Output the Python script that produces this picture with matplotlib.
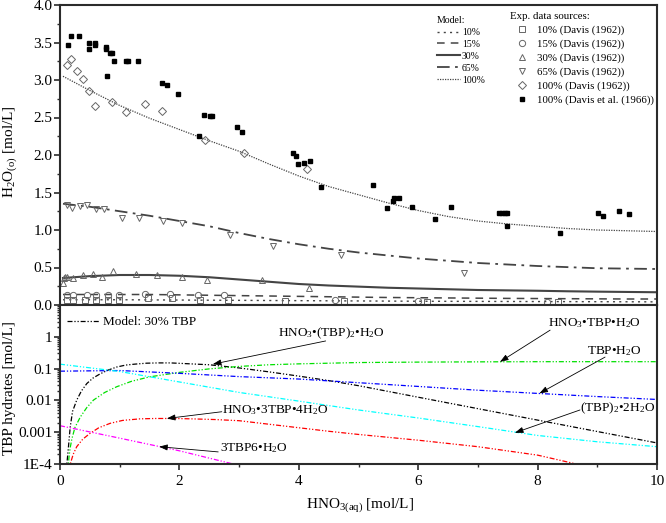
import matplotlib
matplotlib.use("Agg")
import matplotlib.pyplot as plt
from matplotlib.lines import Line2D
from matplotlib.ticker import MultipleLocator, FixedLocator, NullFormatter

plt.rcParams['font.family'] = ['Liberation Serif', 'DejaVu Serif']
plt.rcParams['mathtext.fontset'] = 'custom'
plt.rcParams['mathtext.rm'] = 'Liberation Serif'
plt.rcParams['mathtext.it'] = 'Liberation Serif:italic'

# ---------------- experimental data (top panel) ----------------
x_10 = [0.11, 0.22, 0.42, 0.60, 0.80, 0.98, 1.48, 1.87, 2.35, 2.82, 3.77, 4.75, 6.14, 8.35]
y_10 = [0.067, 0.067, 0.067, 0.067, 0.067, 0.07, 0.09, 0.09, 0.067, 0.067, 0.057, 0.053, 0.036, 0.036]

x_15 = [0.11, 0.22, 0.45, 0.61, 0.81, 0.98, 1.42, 1.84, 2.31, 2.75, 4.61, 6.00, 8.15]
y_15 = [0.13, 0.13, 0.13, 0.13, 0.14, 0.14, 0.15, 0.15, 0.14, 0.14, 0.07, 0.05, 0.035]

x_30 = [0.05, 0.07, 0.09, 0.11, 0.21, 0.39, 0.56, 0.71, 0.88, 1.27, 1.63, 2.05, 2.46, 3.38, 4.17]
y_30 = [0.29, 0.36, 0.38, 0.37, 0.36, 0.40, 0.41, 0.37, 0.45, 0.41, 0.40, 0.38, 0.34, 0.33, 0.23]

x_65 = [0.11, 0.20, 0.34, 0.46, 0.60, 0.73, 1.04, 1.33, 1.73, 2.04, 2.85, 3.57, 4.71, 6.76]
y_65 = [1.34, 1.30, 1.32, 1.34, 1.28, 1.28, 1.16, 1.16, 1.12, 1.09, 0.94, 0.79, 0.67, 0.43]

x_100 = [0.11, 0.18, 0.29, 0.39, 0.48, 0.59, 0.87, 1.10, 1.42, 1.71, 2.43, 3.09, 4.13]
y_100 = [3.20, 3.28, 3.12, 3.02, 2.86, 2.65, 2.71, 2.57, 2.68, 2.59, 2.20, 2.03, 1.81]

x_100b = [0.14, 0.18, 0.32, 0.49, 0.49, 0.59, 0.59, 0.77, 0.77, 0.84, 0.87, 0.90, 0.79,
          1.11, 1.14, 1.30, 1.71, 1.79, 1.97, 2.32, 2.42, 2.52, 2.55, 2.96, 3.05,
          3.91, 3.95, 3.99, 4.09, 4.18, 4.37, 5.25, 5.48, 5.57, 5.60, 5.68, 5.90,
          6.28, 6.55, 7.36, 7.40, 7.45, 7.49, 7.48, 8.38, 9.01, 9.10, 9.37, 9.53]
y_100b = [3.47, 3.59, 3.59, 3.50, 3.41, 3.49, 3.47, 3.44, 3.42, 3.36, 3.36, 3.25, 3.06,
          3.26, 3.26, 3.26, 2.96, 2.94, 2.82, 2.26, 2.54, 2.52, 2.52, 2.38, 2.31,
          2.03, 1.99, 1.88, 1.90, 1.92, 1.58, 1.60, 1.30, 1.39, 1.43, 1.43, 1.31,
          1.15, 1.31, 1.23, 1.23, 1.23, 1.23, 1.06, 0.96, 1.23, 1.19, 1.26, 1.22]

# ---------------- model curves (top panel) ----------------
x_model = [0.05, 0.5, 1.0, 1.5, 2.0, 2.5, 3.0, 3.5, 4.0, 4.5, 5.0, 5.5, 6.0, 6.5, 7.0,
           7.5, 8.0, 8.5, 9.0, 9.5, 10.0]
m_10 = [0.07, 0.07, 0.07, 0.068, 0.066, 0.064, 0.062, 0.060, 0.058, 0.056, 0.054,
        0.052, 0.050, 0.049, 0.048, 0.047, 0.046, 0.045, 0.044, 0.043, 0.042]
m_15 = [0.14, 0.14, 0.14, 0.14, 0.135, 0.13, 0.125, 0.12, 0.115, 0.11, 0.105, 0.10,
        0.097, 0.094, 0.091, 0.088, 0.086, 0.084, 0.082, 0.080, 0.080]
m_30 = [0.36, 0.385, 0.40, 0.40, 0.39, 0.37, 0.34, 0.31, 0.28, 0.26, 0.245, 0.23,
        0.22, 0.21, 0.20, 0.195, 0.19, 0.183, 0.178, 0.174, 0.17]
m_65 = [1.35, 1.31, 1.25, 1.19, 1.12, 1.05, 0.96, 0.88, 0.81, 0.75, 0.70, 0.66,
        0.62, 0.59, 0.56, 0.54, 0.52, 0.505, 0.49, 0.485, 0.48]
m_100 = [3.05, 2.86, 2.66, 2.49, 2.34, 2.19, 2.05, 1.88, 1.72, 1.58, 1.47, 1.36,
         1.26, 1.18, 1.12, 1.08, 1.05, 1.02, 1.00, 0.99, 0.98]

# ---------------- TBP hydrates (bottom panel) ----------------
x_h1 = [0.10, 0.12, 0.14, 0.17, 0.21, 0.28, 0.36, 0.45, 0.55, 0.67, 0.80, 0.95, 1.10,
        1.25, 1.45, 1.65, 1.85, 2.05, 2.5, 3.0, 3.5, 4.0, 4.5, 5.0, 6.0, 7.0, 8.0, 9.0, 10.0]
y_h1 = [5.0e-5, 1.26e-4, 3.2e-4, 1.4e-3, 4.5e-3, 0.0102, 0.020, 0.034, 0.050, 0.068,
        0.089, 0.112, 0.129, 0.138, 0.148, 0.151, 0.151, 0.145, 0.132, 0.105, 0.079,
        0.058, 0.042, 0.029, 0.0126, 0.0055, 0.0024, 0.00105, 0.00046]

x_h2 = [0.13, 0.15, 0.17, 0.20, 0.25, 0.34, 0.45, 0.56, 0.75, 0.95, 1.2, 1.5, 2.0, 2.5,
        3.0, 3.5, 4.0, 5.0, 6.0, 7.0, 8.0, 9.0, 10.0]
y_h2 = [5e-5, 1.6e-4, 3.2e-4, 6.3e-4, 1.4e-3, 3.0e-3, 6.0e-3, 0.0102, 0.0178, 0.0269,
        0.040, 0.055, 0.076, 0.098, 0.117, 0.132, 0.141, 0.155, 0.160, 0.163, 0.165,
        0.165, 0.165]

x_h3 = [0.0, 1.0, 2.0, 3.0, 4.0, 5.0, 6.0, 7.0, 8.0, 9.0, 10.0]
y_h3 = [0.083, 0.087, 0.071, 0.056, 0.047, 0.036, 0.0275, 0.0209, 0.0166, 0.0132, 0.0107]

x_h4 = [0.0, 1.0, 2.0, 3.0, 4.0, 5.0, 6.0, 7.0, 8.0, 9.0, 10.0]
y_h4 = [0.138, 0.081, 0.038, 0.0178, 0.0095, 0.0050, 0.0028, 0.0015, 0.00079, 0.0005, 0.00035]

x_h5 = [0.16, 0.18, 0.22, 0.28, 0.38, 0.5, 0.65, 0.84, 1.05, 1.34, 1.6, 1.9, 2.2, 2.6,
        3.0, 3.5, 4.0, 4.5, 5.0, 6.0, 7.0, 8.0, 8.7]
y_h5 = [5e-5, 1.12e-4, 2.0e-4, 3.5e-4, 6.0e-4, 9.1e-4, 1.38e-3, 1.9e-3, 2.35e-3, 2.63e-3,
        2.7e-3, 2.7e-3, 2.63e-3, 2.5e-3, 2.3e-3, 1.78e-3, 1.38e-3, 1.07e-3, 8.5e-4,
        5.6e-4, 3.5e-4, 1.9e-4, 9.5e-5]

x_h6 = [0.0, 1.0, 2.0, 3.0]
y_h6 = [1.6e-3, 6.5e-4, 2.6e-4, 9e-5]

log_ticks = [1e-4, 1e-3, 1e-2, 1e-1, 1]
log_labels = ['1E-4', '0.001', '0.01', '0.1', '1']

W, H = 666, 523
fig = plt.figure(figsize=(W / 100, H / 100), dpi=100)

def fx(px):
    return px / W

def fy(py):
    return 1 - py / H

L, R = 60, 657
ax1 = fig.add_axes([fx(L), fy(305), fx(R - L), (305 - 5) / H])
ax2 = fig.add_axes([fx(L), fy(464), fx(R - L), (464 - 305) / H])

spine_c = '#2b2b2b'
for ax in (ax1, ax2):
    for s in ax.spines.values():
        s.set_linewidth(1.5)
        s.set_color(spine_c)
    ax.set_xlim(0, 10)

line_c = '#444444'
mk_c = '#666666'

# ----- top panel -----
ax1.plot(x_model, m_10, color=line_c, lw=1.0, linestyle=(0, (1.5, 3)))
ax1.plot(x_model, m_15, color=line_c, lw=1.1, linestyle=(0, (5, 4)))
ax1.plot(x_model, m_30, color=line_c, lw=1.5, linestyle='-')
ax1.plot(x_model, m_65, color=line_c, lw=1.3, linestyle=(0, (7, 3, 1.5, 3)))
ax1.plot(x_model, m_100, color=line_c, lw=0.9, linestyle=(0, (1, 1)))

mkw = dict(linestyle='none', markerfacecolor='none', markeredgecolor=mk_c,
           markeredgewidth=0.7, markersize=4.5)
ax1.plot(x_10, y_10, marker='s', **mkw)
ax1.plot(x_15, y_15, marker='o', **mkw)
ax1.plot(x_30, y_30, marker='^', **mkw)
ax1.plot(x_65, y_65, marker='v', **mkw)
ax1.plot(x_100, y_100, marker='D', **dict(mkw, markersize=4))
ax1.plot(x_100b, y_100b, marker='s', linestyle='none', color='black', markersize=3)

ax1.set_ylim(0, 4)
ax1.yaxis.set_major_locator(MultipleLocator(0.5))
ax1.yaxis.set_minor_locator(MultipleLocator(0.25))
ax1.yaxis.set_major_formatter(matplotlib.ticker.FormatStrFormatter('%.1f'))
ax1.tick_params(axis='y', which='major', direction='out', length=4, width=1.2,
                labelsize=11, pad=1.5, color=spine_c)
ax1.tick_params(axis='y', which='minor', direction='out', length=2.5, width=1.0,
                color=spine_c)
ax1.tick_params(axis='x', which='both', bottom=False, labelbottom=False)

# legends top panel
model_handles = [
    Line2D([], [], color=line_c, lw=1.0, linestyle=(0, (1.5, 3))),
    Line2D([], [], color=line_c, lw=1.1, linestyle=(0, (5, 4))),
    Line2D([], [], color=line_c, lw=1.5, linestyle='-'),
    Line2D([], [], color=line_c, lw=1.3, linestyle=(0, (7, 3, 1.5, 3))),
    Line2D([], [], color=line_c, lw=0.9, linestyle=(0, (1, 1))),
]
model_labels = ['10%', '15%', '30%', '65%', '100%']
leg1 = ax1.legend(model_handles, model_labels, title='Model:', loc='upper left',
                  bbox_to_anchor=((437 - L) / (R - L), (305 - 16) / 300),
                  frameon=False, fontsize=7, title_fontsize=7, handlelength=2.4,
                  handletextpad=0.15, labelspacing=0.3, borderpad=0, borderaxespad=0,
                  alignment='left')
ax1.add_artist(leg1)

exp_handles = [
    Line2D([], [], marker='s', **mkw),
    Line2D([], [], marker='o', **mkw),
    Line2D([], [], marker='^', **mkw),
    Line2D([], [], marker='v', **mkw),
    Line2D([], [], marker='D', **dict(mkw, markersize=4)),
    Line2D([], [], marker='s', linestyle='none', color='black', markersize=3),
]
exp_labels = ['10% (Davis (1962))', '15% (Davis (1962))', '30% (Davis (1962))',
              '65% (Davis (1962))', '100% (Davis (1962))', '100% (Davis et al. (1966))']
leg2 = ax1.legend(exp_handles, exp_labels, title='Exp. data sources:', loc='upper left',
                  bbox_to_anchor=((510 - L) / (R - L), (305 - 12) / 300),
                  frameon=False, fontsize=7.8, title_fontsize=7.8, handlelength=2.2,
                  handletextpad=0.27, labelspacing=0.38, borderpad=0, borderaxespad=0,
                  alignment='left')

# ----- bottom panel -----
hkw = dict(lw=0.9, linestyle=(0, (4, 1.5, 1, 1.5, 1, 1.5)))
ax2.plot(x_h1, y_h1, color='black', label='Model: 30% TBP', **hkw)
ax2.plot(x_h2, y_h2, color='#00e000', **hkw)
ax2.plot(x_h3, y_h3, color='#0000ff', **hkw)
ax2.plot(x_h4, y_h4, color='#00ffff', **hkw)
ax2.plot(x_h5, y_h5, color='#ff0000', **hkw)
ax2.plot(x_h6, y_h6, color='#ff00ff', **hkw)

ax2.set_yscale('log')
ax2.set_ylim(1e-4, 10)
ax2.yaxis.set_major_locator(FixedLocator(log_ticks))
ax2.set_yticklabels(log_labels)
minors = [m * 10.0 ** e for e in range(-4, 1) for m in range(2, 10)]
ax2.yaxis.set_minor_locator(FixedLocator(minors))
ax2.yaxis.set_minor_formatter(NullFormatter())
ax2.xaxis.set_major_locator(MultipleLocator(2))
ax2.xaxis.set_minor_locator(MultipleLocator(1))
ax2.tick_params(axis='both', which='major', direction='out', length=4, width=1.2,
                labelsize=11, color=spine_c)
ax2.tick_params(axis='y', which='major', pad=1.5)
ax2.tick_params(axis='x', which='major', pad=4)
ax2.tick_params(axis='both', which='minor', direction='out', length=2.5, width=1.0,
                color=spine_c)

ax2.legend(loc='upper left', bbox_to_anchor=(0.005, 0.955), frameon=False, fontsize=9.5,
           handlelength=2.4, handletextpad=0.3, borderpad=0.2, borderaxespad=0.1)

akw = dict(arrowstyle='-|>,head_length=0.5,head_width=0.18', color='black', lw=0.6,
           shrinkA=0, shrinkB=0)
tfs = 9.5
def note(text, tx, ty, tail, tip):
    ax2.text(tx, ty, text, fontsize=tfs, ha='left', va='center')
    ax2.annotate('', xy=tip, xytext=tail, arrowprops=akw)

note('HNO$_3$•(TBP)$_2$•H$_2$O', 3.65, 1.3, (4.45, 0.74), (2.56, 0.138))
note('HNO$_3$•TBP•H$_2$O', 8.17, 2.7, (8.21, 1.62), (7.37, 0.163))
note('TBP•H$_2$O', 8.83, 0.36, (9.13, 0.23), (8.03, 0.0166))
note('(TBP)$_2$•2H$_2$O', 8.71, 0.0057, (8.71, 0.005), (7.62, 0.00096))
note('HNO$_3$•3TBP•4H$_2$O', 2.71, 0.005, (2.71, 0.0044), (1.79, 0.0027))
note('3TBP6•H$_2$O', 2.68, 3.2e-4, (2.65, 2.4e-4), (1.66, 3.5e-4))

fig.text(fx(10), fy(152), 'H$_2$O$_{\\rm(o)}$ [mol/L]', rotation=90, ha='center',
         va='center', fontsize=11)
fig.text(fx(10), fy(388), 'TBP hydrates [mol/L]', rotation=90, ha='center',
         va='center', fontsize=11)
fig.text(fx(360), fy(505), 'HNO$_{3\\rm(aq)}$ [mol/L]', ha='center', va='center',
         fontsize=11)

fig.savefig('out.png', dpi=100)
